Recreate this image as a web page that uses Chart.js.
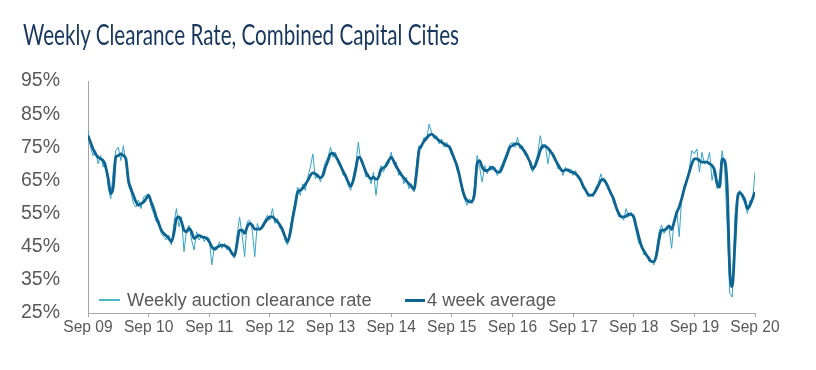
<!DOCTYPE html>
<html>
<head>
<meta charset="utf-8">
<script src="https://cdn.jsdelivr.net/npm/chart.js@4.4.0/dist/chart.umd.min.js"></script>
<style>
  html, body { margin: 0; padding: 0; background: #fff; }
  #wrap { position: relative; width: 816px; height: 370px; overflow: hidden; }
  #title { position: absolute; left: 23px; top: 20px; font-family: 'Lato', 'Open Sans', sans-serif; font-size: 28.5px; line-height: 28px; color: #17375E; white-space: nowrap; transform-origin: 0 0; }
  canvas { position: absolute; left: 0; top: 0; }
  .legend-item { position: absolute; top: 290px; height: 20px; display: flex; align-items: center; font-family: 'Liberation Sans', Arial, sans-serif; font-size: 18.3px; line-height: 20px; color: #595959; white-space: nowrap; }
  .legend-item span.line { display: inline-block; margin-right: 7px; }
</style>
</head>
<body>
<div id="wrap">
  <canvas id="chart" width="816" height="370"></canvas>
  <div id="title">Weekly Clearance Rate, Combined Capital Cities</div>
  <div class="legend-item" style="left:99px"><span class="line" style="width:21px;height:1.5px;background:#4BB6C8"></span>Weekly auction clearance rate</div>
  <div class="legend-item" style="left:405px"><span class="line" style="width:20px;height:3px;background:#0E6491;margin-right:2px"></span>4 week average</div>
</div>
<script>
// Nhãn trục x: mỗi năm một mốc tháng 9
var yearLabels = ['Sep 09', 'Sep 10', 'Sep 11', 'Sep 12', 'Sep 13', 'Sep 14', 'Sep 15', 'Sep 16', 'Sep 17', 'Sep 18', 'Sep 19', 'Sep 20'];
// Số điểm đọc được trên mỗi năm (khoảng nửa tháng một điểm)
var pointsPerYear = 24;

// Tỷ lệ đấu giá thành công hàng tuần (%)
var weeklyRate = [
    80, 75, 72.5, 74, 70, 72.5, 69, 70.5, 63, 59.5, 68, 74, 75, 71, 75.5, 70, 63.5, 61.5, 58, 57, 59, 56.5, 60, 60.5,
    61, 57, 55, 52.5, 53, 49, 48, 47, 48.5, 45.5, 52, 56.5, 51, 54, 43.5, 50, 51.5, 47, 44, 49.5, 47, 48.5, 46.5, 48,
    47.5, 39.5, 45, 44, 46.5, 44.5, 46, 44, 45, 42.5, 41.5, 48.5, 54, 48.5, 42, 52.5, 53, 50, 42, 52, 50, 51.5, 53, 54.5,
    53, 56.5, 52, 53.5, 50.5, 51, 47, 45.5, 50.5, 55, 59, 63, 60.5, 64, 62, 66, 69, 73, 65.5, 67, 64.5, 68, 70.5, 72,
    75, 72, 73.5, 70, 70, 66.5, 67, 63.5, 62, 66.5, 70, 76.5, 70.5, 70, 66, 67, 64, 67.5, 60.5, 67, 69.5, 67.5, 70.5, 70,
    73.5, 70, 70.5, 66.5, 67.5, 64, 66, 62.5, 64, 61.5, 70, 75.5, 74.5, 78, 77, 82, 79.5, 77.5, 78.5, 76, 77.5, 75, 76.5, 74.5,
    72.5, 72, 68, 67.5, 62, 59.5, 57.5, 59.5, 58, 63.5, 72.5, 69, 64.5, 69.5, 67, 69.5, 68, 69, 66.5, 68.5, 70, 72, 74, 76,
    76.5, 75, 78, 74.5, 75.5, 72.5, 73, 69.5, 67.5, 70.5, 73, 78.5, 74.5, 76, 70, 74.5, 72, 71.5, 68.5, 69, 66.5, 69, 67.5, 68.5,
    66.5, 68, 65.5, 65.5, 62.5, 62.5, 60, 61, 60, 63, 64, 67, 64.5, 65, 62, 61.5, 58, 57.5, 54, 54.5, 53, 56.5, 54, 55.5,
    53, 49.5, 46, 46, 42.5, 43, 40.5, 41, 39.5, 44, 49.5, 51.5, 49, 51, 50.5, 44.5, 53, 56, 48, 60, 63.5, 64.5, 68.5, 74,
    73, 74.5, 67.5, 73.5, 70, 70.5, 73.5, 65, 69, 62.5, 66, 74, 68.5, 51, 31, 29.8, 54, 61, 62, 59.5, 58, 55, 59, 58.5, 67.5
];

// Trung bình 4 tuần (%)
var fourWeekAvg = [
    78.5, 76.5, 74.5, 73, 72, 71.5, 71, 69, 65.5, 61, 63, 72, 72.5, 73, 72.5, 71.5, 65, 62.5, 60.5, 58.5, 57.5, 58, 58.5, 59.5,
    60.5, 58.5, 56.5, 54, 52, 50, 49, 48.3, 47.5, 46.5, 49, 53.5, 54, 52.5, 50, 49.5, 50.5, 49.5, 47.5, 48, 48.4, 48, 47.8, 47.5,
    46.5, 45, 44.2, 44.8, 45.2, 45.5, 45.3, 45, 44.3, 43, 42.3, 46, 50, 50, 49, 51, 52, 51.5, 50.3, 50.3, 50.3, 51, 52.3, 53.3,
    54, 54, 53.3, 52.5, 51.5, 50, 48, 46.5, 49, 53.5, 57.5, 61.5, 62, 62.7, 63.8, 65, 66.5, 67.3, 67, 66.3, 65.8, 66.5, 69, 71,
    73, 73.2, 72.3, 71, 69.3, 67.7, 66.2, 64.5, 63.2, 65, 68.5, 72, 71.5, 69.5, 67.5, 66.2, 65.5, 66, 65.3, 66, 68.3, 68.8, 69.5, 71,
    72, 70.8, 69.2, 68, 66.7, 65.8, 64.8, 64, 63.2, 62.3, 67, 74, 75.5, 76.8, 77.8, 78.6, 79, 78.4, 77.7, 77, 76.5, 76, 75.5, 75.2,
    73.5, 71.5, 69.5, 66.5, 63, 60.3, 59, 58.5, 58.7, 61, 70, 71, 69, 68, 68, 68.5, 69, 68.3, 67.5, 67.5, 69, 71, 73, 75,
    75.5, 76, 76, 75.5, 74.5, 73.5, 72, 70.5, 68.5, 69.5, 71.5, 74, 75.5, 75.3, 74.8, 73.8, 72.8, 71.2, 69.8, 68.5, 67.8, 68.2, 68.2, 67.6,
    67.5, 67, 66.2, 65, 63.3, 62, 60.7, 60.5, 60.8, 62, 63.5, 65, 65.3, 64.3, 62.8, 61, 59.5, 57, 55.2, 54, 54, 54.2, 54.8, 54.7,
    54, 51, 48, 45.3, 43.8, 42.5, 41.5, 40.5, 40.5, 42.5, 47, 50, 50, 50.5, 51.3, 50.2, 52.5, 55.3, 57, 59.5, 62.5, 65, 67.5, 70,
    71.5, 71.5, 71, 70.5, 70.5, 70.5, 70, 69.5, 68, 64, 63, 71.5, 71, 63, 38, 33, 45, 59, 61.3, 60.5, 59, 56.5, 57.5, 59.5, 61.5
];

// Ghép giá trị với vị trí thời gian (tính theo năm kể từ Sep 09)
function toPoints(values) {
    return values.map(function (v, i) {
        return { x: i / pointsPerYear, y: v };
    });
}

// Co tiêu đề cho khớp độ rộng
var title = document.getElementById('title');
var titleWidth = title.getBoundingClientRect().width;
title.style.transform = 'scaleX(' + (436 / titleWidth) + ')';

var axisColor = '#A6A6A6';
var labelColor = '#595959';

new Chart(document.getElementById('chart').getContext('2d'), {
    type: 'line',
    data: {
        datasets: [{
            label: 'Weekly auction clearance rate',
            data: toPoints(weeklyRate),
            borderColor: '#35A3C8',
            borderWidth: 1,
            pointRadius: 0,
            order: 1
        }, {
            label: '4 week average',
            data: toPoints(fourWeekAvg),
            borderColor: '#0E6491',
            borderWidth: 2.8,
            pointRadius: 0,
            cubicInterpolationMode: 'monotone',
            order: 0
        }]
    },
    options: {
        responsive: false,
        animation: false,
        layout: { padding: { left: 0, right: 61, top: 81, bottom: 0 } },
        plugins: {
            legend: { display: false },
            tooltip: { enabled: false }
        },
        scales: {
            x: {
                type: 'linear',
                min: 0,
                max: 11,
                ticks: {
                    stepSize: 1,
                    autoSkip: false,
                    maxRotation: 0,
                    padding: 1,
                    color: labelColor,
                    font: { family: 'Liberation Sans', size: 15.6 },
                    callback: function (v) { return yearLabels[v]; }
                },
                grid: { display: true, drawOnChartArea: false, drawTicks: true, tickLength: 4, color: axisColor },
                border: { display: true, color: axisColor, width: 1 },
                afterFit: function (scale) { scale.height = 57; }
            },
            y: {
                min: 25,
                max: 95,
                ticks: {
                    stepSize: 10,
                    padding: 20,
                    color: labelColor,
                    font: { family: 'Liberation Sans', size: 19.5 },
                    callback: function (v) { return v + '%'; }
                },
                grid: { display: false },
                border: { display: true, color: axisColor, width: 1 },
                afterFit: function (scale) { scale.width = 88; }
            }
        }
    }
});
</script>
</body>
</html>
